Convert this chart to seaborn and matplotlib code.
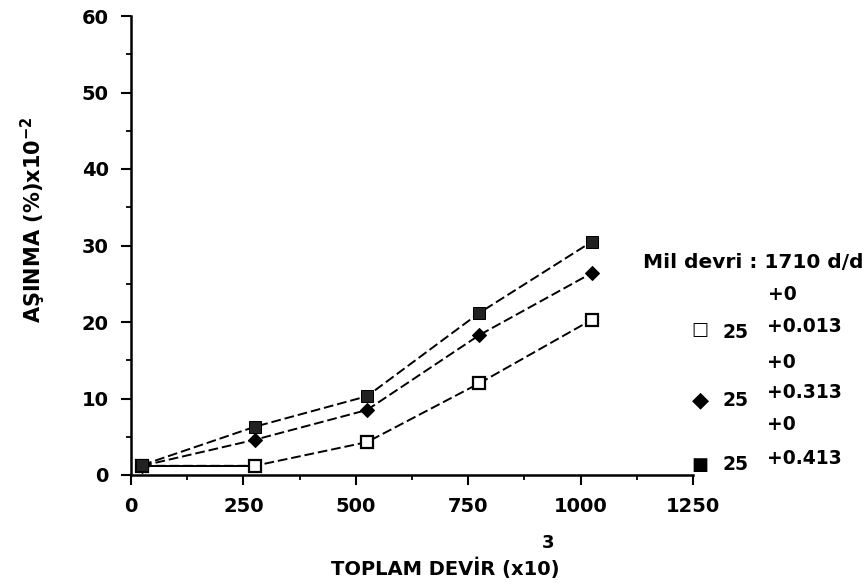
import numpy as np
import pandas as pd
import seaborn as sns
import matplotlib.pyplot as plt
from matplotlib.ticker import MultipleLocator

# data
devir = [25, 275, 525, 775, 1025]
asinma_013 = [1.2, 1.2, 4.3, 12.0, 20.3]
asinma_313 = [1.2, 4.6, 8.5, 18.3, 26.4]
asinma_413 = [1.3, 6.3, 10.3, 21.2, 30.5]

x_ticks = [0, 250, 500, 750, 1000, 1250]
y_ticks = [0, 10, 20, 30, 40, 50, 60]

sns.set_theme(style="ticks", rc={"text.color": "black", "axes.labelcolor": "black",
                                 "xtick.color": "black", "ytick.color": "black",
                                 "axes.edgecolor": "black"})
plt.rcParams['font.family'] = ['DejaVu Sans']
plt.rcParams['font.weight'] = 'bold'

fig = plt.figure(figsize=(8.68, 5.87), dpi=100)
ax = fig.add_axes([131 / 868, 112 / 587, (693 - 131) / 868, (475 - 16) / 587])

df = pd.DataFrame({"devir": devir, "a013": asinma_013,
                   "a313": asinma_313, "a413": asinma_413})

# open squares: first segment solid, rest dashed
sns.lineplot(data=df, x="devir", y="a013", ax=ax, color="black", lw=1.4,
             linestyle=(0, (5, 2)), marker="s", markersize=9,
             markerfacecolor="white", markeredgecolor="black", markeredgewidth=1.6,
             zorder=3)
sns.lineplot(data=df.iloc[:2], x="devir", y="a013", ax=ax, color="black", lw=1.4,
             zorder=2)
sns.lineplot(data=df, x="devir", y="a313", ax=ax, color="black", lw=1.4,
             linestyle=(0, (5, 2)), marker="D", markersize=7,
             markerfacecolor="black", markeredgecolor="black", zorder=3)
sns.lineplot(data=df, x="devir", y="a413", ax=ax, color="black", lw=1.4,
             linestyle=(0, (5, 2)), marker="s", markersize=9,
             markerfacecolor="#222222", markeredgecolor="black", zorder=3)

ax.set_xlim(0, 1250)
ax.set_ylim(0, 60)
ax.set_xticks(x_ticks)
ax.set_yticks(y_ticks)
ax.xaxis.set_minor_locator(MultipleLocator(125))
ax.yaxis.set_minor_locator(MultipleLocator(5))
ax.tick_params(axis="both", which="major", length=7, width=1.5, labelsize=14,
               direction="out", color="black", pad=9)
ax.tick_params(axis="both", which="minor", length=3.5, width=1.3,
               direction="out", color="black")
for lab in ax.get_xticklabels() + ax.get_yticklabels():
    lab.set_fontweight("bold")
ax.set_xlabel("")
ax.set_ylabel("")
sns.despine(ax=ax)
for sp in ["left", "bottom"]:
    ax.spines[sp].set_linewidth(1.8)
    ax.spines[sp].set_color("black")

# axis titles
fig.text(33 / 868, 1 - 220 / 587, r"AŞINMA (%)x10$^{\mathbf{-2}}$", rotation=90,
         ha="center", va="center", fontsize=15, fontweight="bold")
fig.text(445 / 868, 1 - 568 / 587, "TOPLAM DEVİR (x10)", ha="center", va="center",
         fontsize=14, fontweight="bold")
fig.text(548 / 868, 1 - 543 / 587, "3", ha="center", va="center",
         fontsize=13, fontweight="bold")

# legend block on the right
def ftxt(x, y, s, ha="left", size=13.5):
    fig.text(x / 868, 1 - y / 587, s, ha=ha, va="center",
             fontsize=size, fontweight="bold")

ftxt(643, 262, "Mil devri : 1710 d/d", size=14.5)
ftxt(768, 295, "+0")
ftxt(700, 330, "□", ha="center", size=13)
ftxt(722, 332, "25")
ftxt(767, 327, "+0.013")
ftxt(767, 362, "+0")
ftxt(700, 400, "◆", ha="center", size=16)
ftxt(722, 400, "25")
ftxt(767, 393, "+0.313")
ftxt(767, 425, "+0")
ftxt(700, 465, "■", ha="center", size=13)
ftxt(722, 465, "25")
ftxt(767, 458, "+0.413")

fig.savefig("out.png", dpi=100)
